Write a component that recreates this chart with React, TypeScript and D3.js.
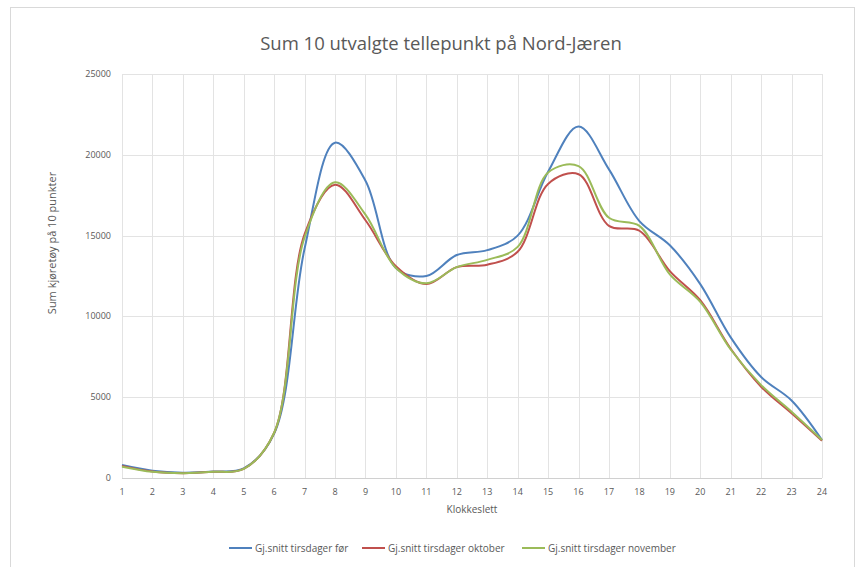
import { useEffect, useRef } from "react";
import * as d3 from "d3";

// Hours of the day (x axis)
const hours = d3.range(1, 25);

// Sum of vehicles over 10 counting points, per hour
const forValues = [800, 450, 330, 400, 600, 2750, 14200, 20750, 18400, 13000, 12500, 13800, 14100, 15000, 18950, 21750, 19100, 15900, 14400, 12000, 8700, 6250, 4800, 2350];
const oktoberValues = [750, 400, 300, 380, 560, 2800, 15100, 18150, 15950, 13100, 12000, 13050, 13200, 14000, 18200, 18800, 15600, 15300, 12800, 11000, 8000, 5650, 4000, 2300];
const novemberValues = [700, 380, 300, 380, 560, 2800, 14900, 18300, 16300, 13000, 12050, 13050, 13500, 14300, 18900, 19300, 16100, 15600, 12600, 10900, 7950, 5750, 4100, 2350];

const series = [
  { name: "Gj.snitt tirsdager før", color: "#4F81BD", values: forValues },
  { name: "Gj.snitt tirsdager oktober", color: "#C0504D", values: oktoberValues },
  { name: "Gj.snitt tirsdager november", color: "#9BBB59", values: novemberValues },
];

const yTicks = [0, 5000, 10000, 15000, 20000, 25000];

const FONT = "'Open Sans', 'Liberation Sans', sans-serif";
const TEXT = "#595959";

export default function App() {
  const ref = useRef<SVGSVGElement>(null);

  useEffect(() => {
    const svg = d3.select(ref.current);
    svg.selectAll("*").remove();

    const width = 859;
    const height = 567;
    const margin = { top: 74, right: 37, bottom: 89, left: 122 };

    // chart frame
    svg.append("rect")
      .attr("x", 10.5)
      .attr("y", 7.5)
      .attr("width", 844)
      .attr("height", 570)
      .attr("fill", "#fff")
      .attr("stroke", "#d9d9d9");

    const x = d3.scaleLinear().domain([1, 24]).range([margin.left, width - margin.right]);
    const y = d3.scaleLinear().domain([0, 25000]).range([height - margin.bottom, margin.top]);

    // Grid
    svg.append("g")
      .selectAll("line")
      .data(yTicks.slice(1))
      .enter()
      .append("line")
      .attr("x1", x(1))
      .attr("x2", x(24))
      .attr("y1", d => Math.round(y(d)) + 0.5)
      .attr("y2", d => Math.round(y(d)) + 0.5)
      .attr("stroke", "#e3e3e3")
      .attr("stroke-width", 1);

    svg.append("g")
      .selectAll("line")
      .data(hours)
      .enter()
      .append("line")
      .attr("x1", d => Math.round(x(d)) + 0.5)
      .attr("x2", d => Math.round(x(d)) + 0.5)
      .attr("y1", y(25000))
      .attr("y2", y(0))
      .attr("stroke", "#e3e3e3")
      .attr("stroke-width", 1);

    // x axis baseline
    svg.append("line")
      .attr("x1", x(1))
      .attr("x2", x(24))
      .attr("y1", Math.round(y(0)) + 0.5)
      .attr("y2", Math.round(y(0)) + 0.5)
      .attr("stroke", "#d0d0d0");

    // Tick labels
    svg.append("g")
      .selectAll("text")
      .data(yTicks)
      .enter()
      .append("text")
      .attr("x", 111)
      .attr("y", d => y(d) + 3)
      .attr("text-anchor", "end")
      .attr("font-family", FONT)
      .attr("font-size", "9px")
      .attr("fill", TEXT)
      .text(d => d);

    svg.append("g")
      .selectAll("text")
      .data(hours)
      .enter()
      .append("text")
      .attr("x", d => x(d))
      .attr("y", y(0) + 17)
      .attr("text-anchor", "middle")
      .attr("font-family", FONT)
      .attr("font-size", "9px")
      .attr("fill", TEXT)
      .text(d => d);

    // Axis titles
    svg.append("text")
      .attr("x", (x(1) + x(24)) / 2)
      .attr("y", y(0) + 35)
      .attr("text-anchor", "middle")
      .attr("font-family", FONT)
      .attr("font-size", "10px")
      .attr("fill", TEXT)
      .text("Klokkeslett");

    svg.append("text")
      .attr("transform", "translate(56,243) rotate(-90)")
      .attr("text-anchor", "middle")
      .attr("font-family", FONT)
      .attr("font-size", "11px")
      .attr("fill", TEXT)
      .text("Sum kjøretøy på 10 punkter");

    // Title
    svg.append("text")
      .attr("x", 441)
      .attr("y", 50)
      .attr("text-anchor", "middle")
      .attr("font-family", FONT)
      .attr("font-size", "18.5px")
      .attr("fill", TEXT)
      .text("Sum 10 utvalgte tellepunkt på Nord-Jæren");

    // Lines (smoothed like Excel)
    const line = d3.line<number>()
      .x((_, i) => x(hours[i]))
      .y(d => y(d))
      .curve(d3.curveCatmullRom.alpha(0.5));

    series.forEach(s => {
      svg.append("path")
        .attr("d", line(s.values))
        .attr("fill", "none")
        .attr("stroke", s.color)
        .attr("stroke-width", 2)
        .attr("stroke-linejoin", "round");
    });

    // Legend
    const legendX = [229, 362, 522];
    series.forEach((s, i) => {
      const g = svg.append("g").attr("transform", `translate(${legendX[i]},548)`);
      g.append("line")
        .attr("x1", 0)
        .attr("x2", 23)
        .attr("y1", 0)
        .attr("y2", 0)
        .attr("stroke", s.color)
        .attr("stroke-width", 2);
      g.append("text")
        .attr("x", 26)
        .attr("y", 3.5)
        .attr("font-family", FONT)
        .attr("font-size", "10px")
        .attr("fill", TEXT)
        .text(s.name);
    });
  }, []);

  return (
    <svg
      ref={ref}
      width={859}
      height={567}
      style={{ position: "absolute", left: 0, top: 0, background: "#fff" }}
    ></svg>
  );
}
